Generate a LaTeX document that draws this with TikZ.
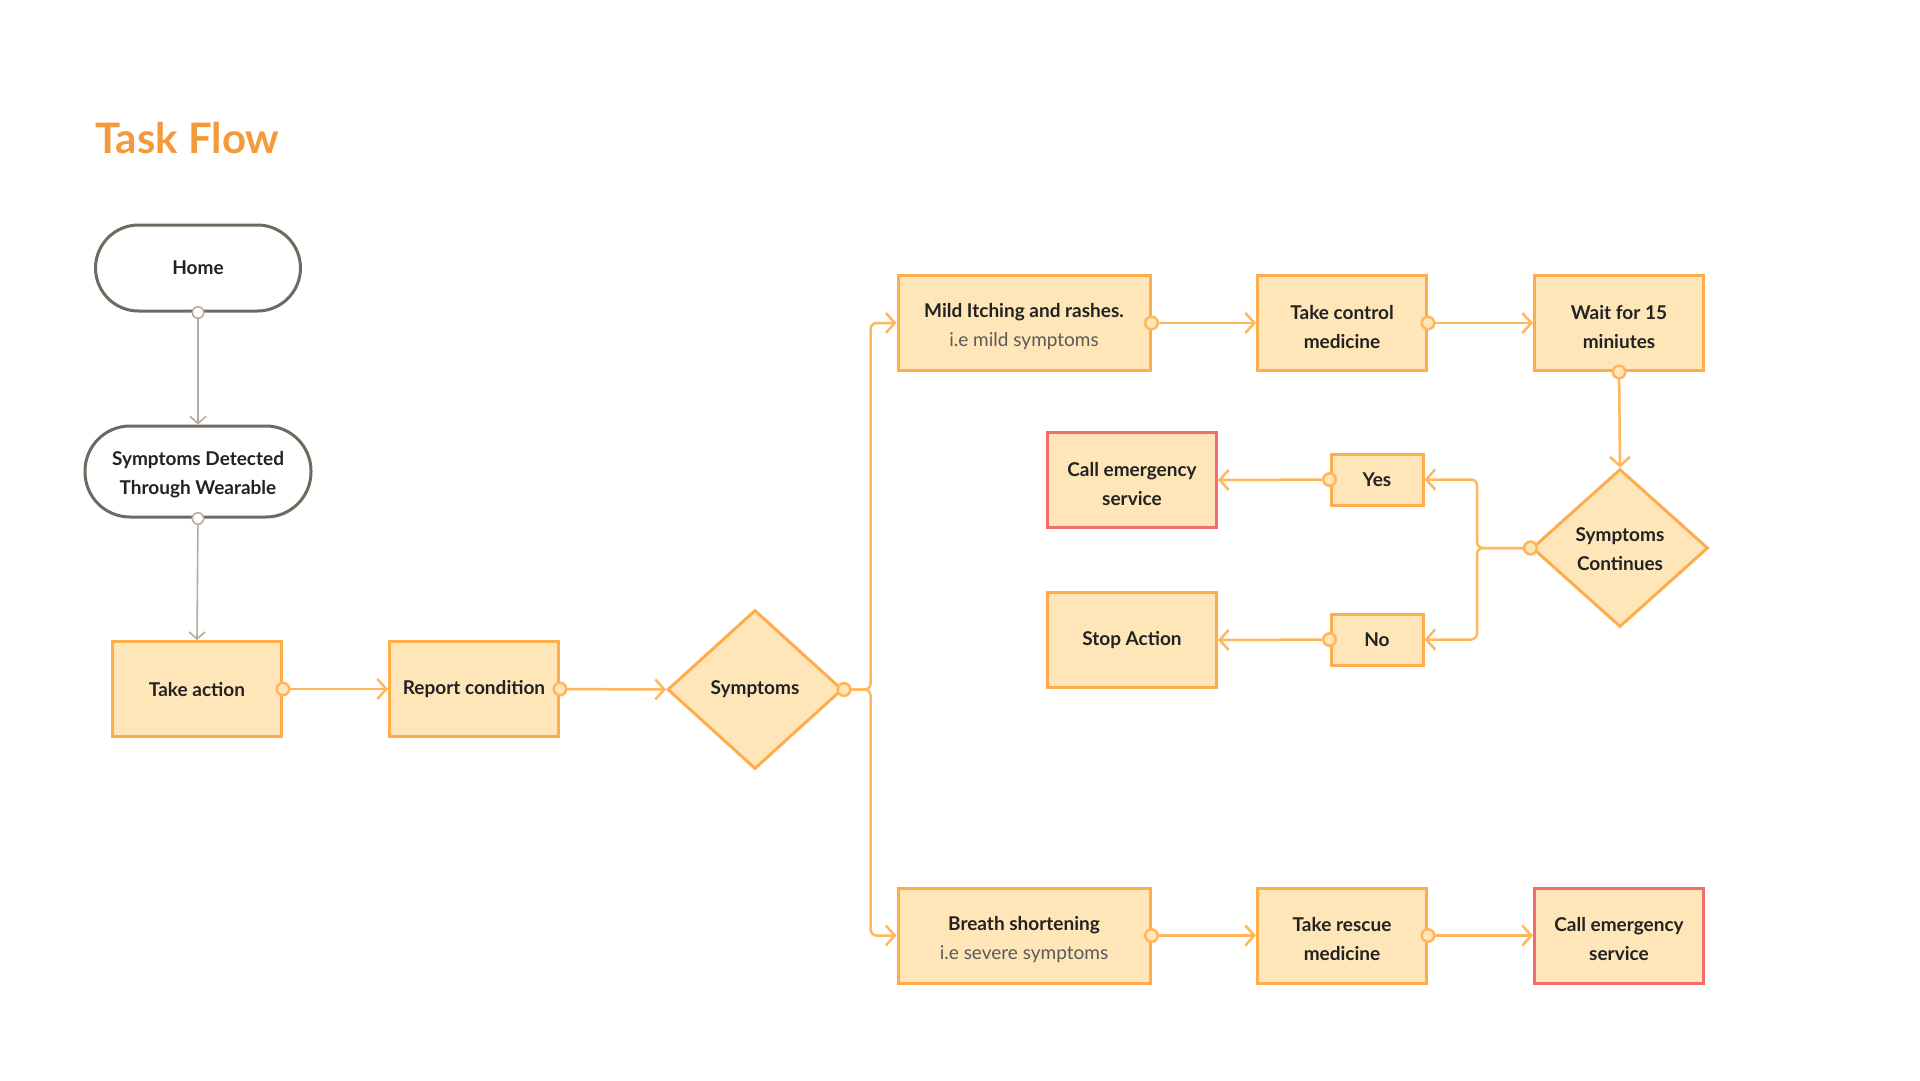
\documentclass[tikz,border=0pt]{standalone}
\usepackage{fontspec}
\setmainfont{Lato}
\usetikzlibrary{shapes.geometric,arrows.meta}
\definecolor{boxfill}{HTML}{FFE6B9}
\definecolor{boxline}{HTML}{FFAD4C}
\definecolor{connc}{HTML}{FFB65C}
\definecolor{redline}{HTML}{F66B6B}
\definecolor{greyline}{HTML}{6E6A60}
\definecolor{greyconn}{HTML}{B5AC9C}
\definecolor{titlecol}{HTML}{F39A3C}
\definecolor{txt}{HTML}{222222}
\definecolor{subtxt}{HTML}{5A5A5A}
\newcommand{\lowr}{\rule{0pt}{22pt}}
\tikzset{
  lbl/.style={font=\bfseries\fontsize{19}{29}\selectfont, text=txt, align=center},
  box/.style={lbl, draw=boxline, fill=boxfill, line width=3pt, minimum width=169pt, minimum height=95pt, inner sep=0pt},
  widebox/.style={box, minimum width=252pt},
  redbox/.style={box, draw=redline},
  smallbox/.style={box, minimum width=92pt, minimum height=51pt},
  dia/.style={lbl, diamond, draw=boxline, fill=boxfill, line width=3pt, minimum width=175pt, minimum height=159pt, inner sep=0pt},
  pill/.style={lbl, draw=greyline, fill=white, line width=3pt, inner sep=0pt},
  oc/.style={draw=connc, line width=2.5pt, rounded corners=6pt, {Circle[length=15pt,fill=boxfill]}-{Straight Barb[length=9pt,width=20pt]}},
  gc/.style={draw=greyconn, line width=1.6pt, {Circle[length=13pt,fill=white]}-{Straight Barb[length=7pt,width=16pt]}},
}
\begin{document}
\begin{tikzpicture}[x=1pt,y=-1pt]
\useasboundingbox (0,0) rectangle (1920,1080);
\node[anchor=west, inner sep=0pt, font=\bfseries\fontsize{42}{50}\selectfont, text=titlecol] (title) at (95,138) {Task Flow};

\node[pill, minimum width=205pt, minimum height=86pt, rounded corners=43pt] (home) at (198,268) {Home};
\node[pill, minimum width=226pt, minimum height=91pt, rounded corners=45pt] (sd) at (198,471.5) {\rule{0pt}{20pt}Symptoms Detected\\Through Wearable};

\node[box] (take) at (197,689) {Take action};
\node[box] (report) at (474,689) {Report condition};
\node[dia] (symp) at (755,689.5) {Symptoms};

\node[widebox] (mild) at (1024,323) {\lowr Mild Itching and rashes.\\{\mdseries\color{subtxt}i.e mild symptoms}};
\node[box] (control) at (1342,323) {\lowr Take control\\medicine};
\node[box] (wait) at (1619,323) {\lowr Wait for 15\\miniutes};
\node[dia, minimum width=176pt, minimum height=158pt] (sc) at (1620,548) {\rule{0pt}{16pt}Symptoms\\Continues};

\node[redbox] (call1) at (1132,480) {\lowr Call emergency\\service};
\node[smallbox] (yes) at (1377,479.5) {Yes};
\node[box] (stop) at (1132,640) {Stop Action};
\node[smallbox] (no) at (1377,639.5) {No};

\node[widebox] (breath) at (1024,935.5) {\lowr Breath shortening\\{\mdseries\color{subtxt}i.e severe symptoms}};
\node[box] (rescue) at (1342,935.5) {\lowr Take rescue\\medicine};
\node[redbox] (call2) at (1619,935.5) {\lowr Call emergency\\service};

\coordinate (b1) at (870.6,689.5);
\coordinate (b2) at (1477,548);

\draw[gc] ([yshift=6.5pt]home.south) -- (sd.north);
\draw[gc] ([yshift=6.5pt]sd.south) -- (take.north);

\draw[oc] ([xshift=-7.5pt]take.east) -- (report.west);
\draw[oc] ([xshift=-7.5pt]report.east) -- (symp.west);
\draw[oc] ([xshift=-7.5pt]symp.east) -- (b1) |- (mild.west);
\draw[oc] ([xshift=-7.5pt]symp.east) -- (b1) |- (breath.west);
\draw[oc] ([xshift=-7.5pt]mild.east) -- (control.west);
\draw[oc] ([xshift=-7.5pt]control.east) -- (wait.west);
\draw[oc] ([yshift=7.5pt]wait.south) -- (sc.north);
\draw[oc] ([xshift=7.5pt]sc.west) -- (b2) |- (yes.east);
\draw[oc] ([xshift=7.5pt]sc.west) -- (b2) |- (no.east);
\draw[oc] ([xshift=7.5pt]yes.west) -- (call1.east);
\draw[oc] ([xshift=7.5pt]no.west) -- (stop.east);
\draw[oc] ([xshift=-7.5pt]breath.east) -- (rescue.west);
\draw[oc] ([xshift=-7.5pt]rescue.east) -- (call2.west);
\end{tikzpicture}
\end{document}
